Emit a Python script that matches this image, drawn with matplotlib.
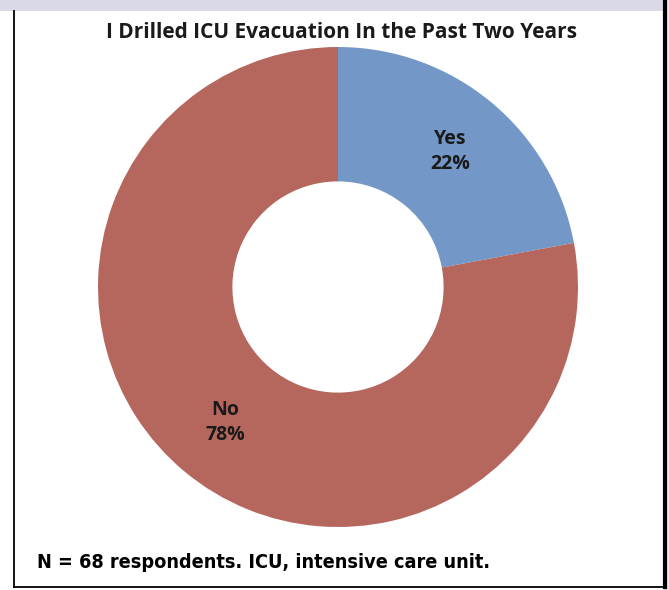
import matplotlib.pyplot as plt
from matplotlib.patches import Rectangle

# Data
categories = ['Yes', 'No']
counts = [15, 53]   # N = 68
colors = ['#7398C8', '#B5675E']

title = 'I Drilled ICU Evacuation In the Past Two Years'
note = 'N = 68 respondents. ICU, intensive care unit.'

W, H = 669, 590
fig = plt.figure(figsize=(W / 100, H / 100), dpi=100)
ax = fig.add_axes([0, 0, 1, 1])

total = sum(counts)
labels = [f'{c}\n{round(100 * n / total)}%' for c, n in zip(categories, counts)]

ax.pie(counts, colors=colors, labels=labels, labeldistance=0.735,
       startangle=90, counterclock=False, center=(338, H - 287), radius=240,
       wedgeprops=dict(width=240 * 0.56, linewidth=0),
       textprops=dict(fontsize=14, fontweight='bold', color='#1a1a1a',
                      ha='center', va='center', linespacing=1.35,
                      family=['Open Sans', 'DejaVu Sans']))

ax.set_xlim(0, W)
ax.set_ylim(0, H)
ax.set_axis_off()

# top band and frame
ax.add_patch(Rectangle((0, H - 11), 664, 11, facecolor='#DAD9E7', edgecolor='none'))
ax.add_patch(Rectangle((664, 0), 5, H, facecolor='#e8e8ee', edgecolor='none'))
ax.plot([13.5, 13.5], [3.5, H - 11], color='black', lw=1.3)
ax.plot([13.5, 665], [3.5, 3.5], color='black', lw=1.3)
ax.plot([665, 665], [3.5, H], color='black', lw=3)

ax.text(341, H - 32, title, ha='center', va='center', fontsize=15,
        fontweight='bold', color='#1a1a1a', family=['Open Sans', 'DejaVu Sans'])
ax.text(37, H - 562, note, ha='left', va='center', fontsize=14.2,
        fontweight='bold', fontstretch='condensed', color='black',
        family=['DejaVu Sans'])

fig.savefig('out.png', dpi=100)
